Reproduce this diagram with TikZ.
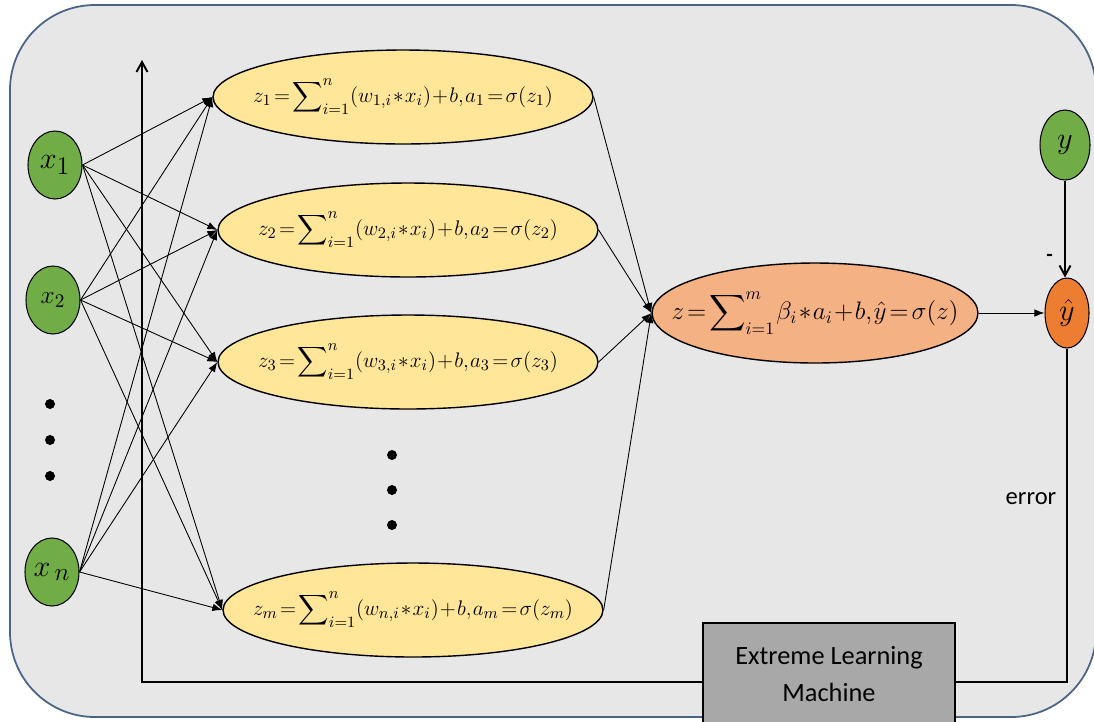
\documentclass[tikz,border=0pt]{standalone}
\usepackage{amsmath}
\usepackage{xcolor}
\usepackage{fontspec}
\newfontfamily\elmfont{Carlito}
\usetikzlibrary{arrows.meta, shapes.geometric}
\definecolor{panelbg}{HTML}{E7E7E7}
\definecolor{panelline}{HTML}{4A6485}
\definecolor{ingreen}{HTML}{70AD47}
\definecolor{hidyellow}{HTML}{FFE699}
\definecolor{outpeach}{HTML}{F4B183}
\definecolor{outorange}{HTML}{ED7D31}
\definecolor{boxgrey}{HTML}{A9A8A8}
\newcommand{\tightmath}{\thickmuskip=2mu\medmuskip=1mu\thinmuskip=1mu}

\begin{document}
\begin{tikzpicture}[x=0.02cm, y=-0.02cm,
    innode/.style={ellipse, draw=black, semithick, fill=ingreen, inner sep=0pt,
      minimum width=1.08cm, minimum height=1.36cm, font=\fontsize{19}{20}\selectfont},
    hidnode/.style={ellipse, draw=black, thick, fill=hidyellow, inner xsep=-2cm, inner ysep=-0.3cm,
      minimum width=7.6cm, minimum height=1.88cm, font=\fontsize{13}{16}\selectfont\tightmath},
    wire/.style={-{Latex[length=2mm,width=1.5mm]}, line width=0.5pt},
    feed/.style={-{Straight Barb[length=2mm,width=2.2mm]}, line width=1.1pt}]
  \useasboundingbox (0,0) rectangle (1094,721);
  % 背景框
  \draw[fill=panelbg, draw=panelline, line width=1pt, rounded corners=1.7cm] (10,5) rectangle (1096,717);
  % 输入层
  \node[innode] (x1) at (55,165) {$x_1$};
  \node[innode, font=\fontsize{15}{16}\selectfont] (x2) at (53,300) {$x_2$};
  \node[innode] (xn) at (52,572) {$x_{\,n}$};
  \foreach \yy in {404,440,476}
    \fill (50,\yy) circle (5);
  % 隐含层
  \node[hidnode] (z1) at (403,97) {$z_1=\displaystyle\sum\nolimits_{i=1}^{n}(w_{1,i}*x_i)+b,a_1=\sigma(z_1)$};
  \node[hidnode] (z2) at (408,230) {$z_2=\displaystyle\sum\nolimits_{i=1}^{n}(w_{2,i}*x_i)+b,a_2=\sigma(z_2)$};
  \node[hidnode] (z3) at (408,362) {$z_3=\displaystyle\sum\nolimits_{i=1}^{n}(w_{3,i}*x_i)+b,a_3=\sigma(z_3)$};
  \node[hidnode] (zm) at (413,610) {$z_m=\displaystyle\sum\nolimits_{i=1}^{n}(w_{n,i}*x_i)+b,a_m=\sigma(z_m)$};
  \foreach \yy in {455,490,525}
    \fill (392,\yy) circle (5);
  % 输出层
  \node[hidnode, fill=outpeach, minimum width=6.52cm, minimum height=2cm,
    font=\fontsize{14.5}{18}\selectfont\tightmath] (out) at (815,313)
    {$z=\displaystyle\sum\nolimits_{i=1}^{m}\beta_i*a_i+b,\hat{y}=\sigma(z)$};
  \node[innode, fill=outorange, minimum width=0.88cm, minimum height=1.4cm] (yhat) at (1067,313) {$\hat{y}$};
  \node[innode, minimum width=1cm, minimum height=1.4cm] (y) at (1065,145) {$y$};
  % 连线
  \foreach \a in {x1,x2,xn}
    \foreach \b in {z1,z2,z3,zm}
      \draw[wire] (\a.east) -- (\b.west);
  \foreach \b in {z1,z2,z3,zm}
    \draw[wire] (\b.east) -- (out.west);
  \draw[wire] (out.east) -- (yhat.west);
  \draw[feed] (y.south) -- node[pos=0.8, left=3pt, font=\elmfont\bfseries\large] {-} (y.south |- yhat.north);
  % 误差反馈
  \coordinate (turn) at (142,682);
  \coordinate (loopend) at (142,60);
  \draw[feed] (yhat.south) |- (turn) -- (loopend);
  \node[font=\elmfont\fontsize{14}{16}\selectfont] (err) at (1031,499) {error};
  % ELM
  \node[draw=black, thick, fill=boxgrey, minimum width=5.04cm, minimum height=2.04cm,
    align=center, font=\elmfont\fontsize{15}{21.5}\selectfont] (elm) at (829,674)
    {Extreme Learning\\Machine};
\end{tikzpicture}
\end{document}
